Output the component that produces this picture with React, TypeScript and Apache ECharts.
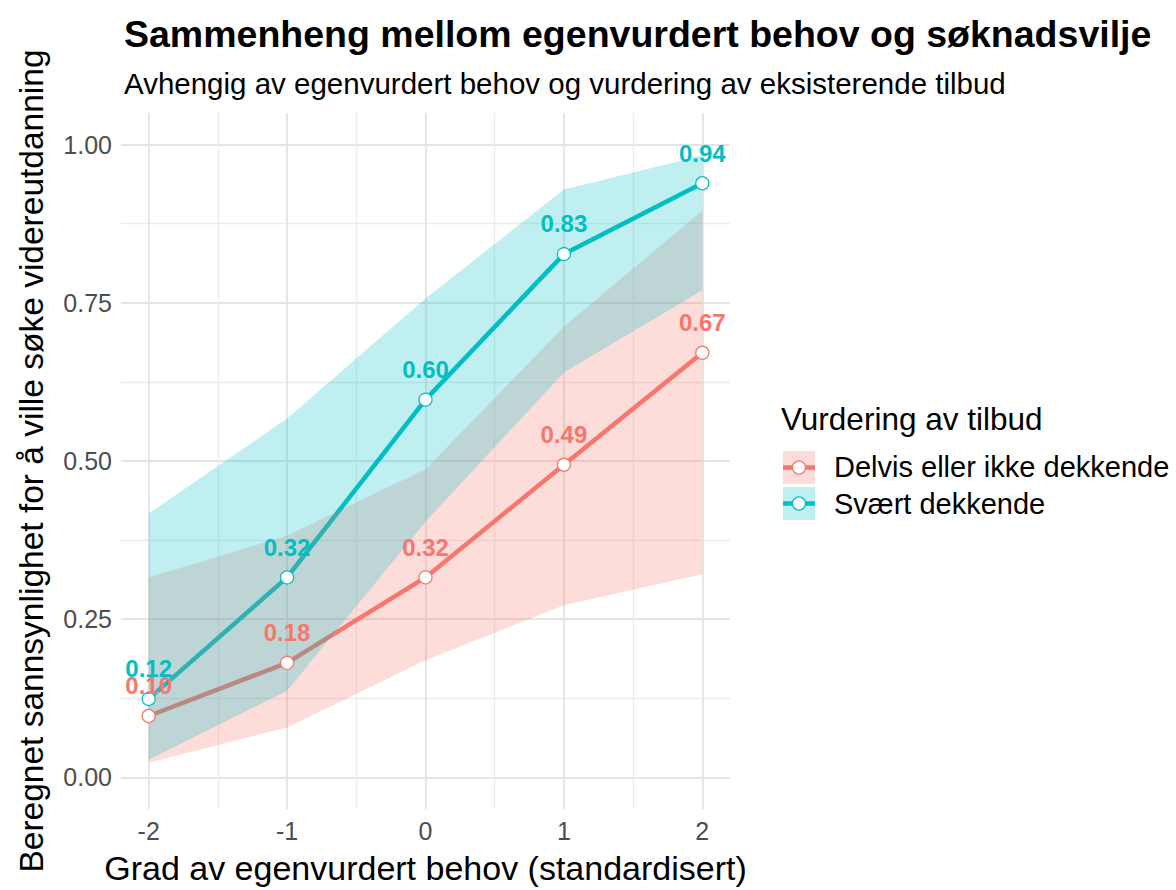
import React, { useEffect, useRef } from "react";
import * as echarts from "echarts";

const FONT = "'Liberation Sans', Arial, Helvetica, sans-serif";
const RED = "#F8766D";
const BLUE = "#00BFC4";
const RED_FILL = "rgba(248,118,109,0.25)";
const BLUE_FILL = "rgba(0,191,196,0.25)";

const titleText = "Sammenheng mellom egenvurdert behov og søknadsvilje";
const subtitleText = "Avhengig av egenvurdert behov og vurdering av eksisterende tilbud";
const xAxisTitle = "Grad av egenvurdert behov (standardisert)";
const yAxisTitle = "Beregnet sannsynlighet for å ville søke videreutdanning";
const legendTitle = "Vurdering av tilbud";
const groupNames = ["Delvis eller ikke dekkende", "Svært dekkende"];

const xValues = [-2, -1, 0, 1, 2];
const xMajorTicks = [-2, -1, 0, 1, 2];
const xMinorTicks = [-1.5, -0.5, 0.5, 1.5];
const yMajorTicks = [0, 0.25, 0.5, 0.75, 1];
const yMinorTicks = [0.125, 0.375, 0.625, 0.875];

// Delvis eller ikke dekkende (red)
const redFit = [0.097, 0.181, 0.316, 0.494, 0.671];
const redLower = [0.023, 0.079, 0.185, 0.272, 0.321];
const redUpper = [0.316, 0.382, 0.487, 0.712, 0.896];

// Svært dekkende (blue)
const blueFit = [0.124, 0.316, 0.597, 0.827, 0.939];
const blueLower = [0.028, 0.137, 0.404, 0.64, 0.77];
const blueUpper = [0.417, 0.567, 0.757, 0.929, 0.983];

function ribbon(name: string, lower: number[], upper: number[], fill: string) {
  return {
    type: "custom",
    name,
    z: 3,
    silent: true,
    clip: true,
    data: xValues.map((x, i) => [x, lower[i], upper[i]]),
    encode: { x: 0, y: [1, 2] },
    renderItem: (params: any, api: any) => {
      if (params.dataIndex !== 0) return null;
      const pts: number[][] = [];
      for (let i = 0; i < xValues.length; i++) pts.push(api.coord([xValues[i], upper[i]]));
      for (let i = xValues.length - 1; i >= 0; i--) pts.push(api.coord([xValues[i], lower[i]]));
      return { type: "polygon", shape: { points: pts }, style: { fill } };
    },
  };
}

function fitLine(name: string, vals: number[], color: string) {
  return {
    type: "line",
    name,
    z: 2,
    silent: true,
    symbol: "none",
    data: xValues.map((x, i) => [x, vals[i]]),
    lineStyle: { color, width: 4.5 },
    itemStyle: { color },
  };
}

function points(name: string, vals: number[], color: string) {
  return {
    type: "scatter",
    name,
    z: 4,
    symbol: "circle",
    symbolSize: 13,
    data: xValues.map((x, i) => [x, vals[i]]),
    itemStyle: { color: "#ffffff", borderColor: color, borderWidth: 1.3, opacity: 1 },
    label: {
      show: true,
      position: "top",
      distance: 11,
      formatter: (p: any) => p.value[1].toFixed(2),
      color,
      fontWeight: "bold",
      fontSize: 24,
      fontFamily: FONT,
    },
  };
}

export default function App() {
  const ref = useRef<HTMLDivElement>(null);
  useEffect(() => {
    if (!ref.current) return;
    const chart = echarts.init(ref.current, undefined, { renderer: "svg" });
    const gridLeft = 121;
    const gridTop = 113;
    const gridW = 609;
    const gridH = 699;
    const axisCommon = {
      type: "value",
      axisLine: { show: false },
    };
    chart.setOption({
      animation: false,
      backgroundColor: "#ffffff",
      textStyle: { fontFamily: FONT },
      title: {
        text: titleText,
        subtext: subtitleText,
        left: 119,
        top: 9,
        itemGap: 12,
        textStyle: { fontSize: 37.5, fontWeight: "bold", color: "#000", fontFamily: FONT, lineHeight: 40 },
        subtextStyle: { fontSize: 29.5, color: "#000", fontFamily: FONT, lineHeight: 34 },
      },
      grid: { left: gridLeft, top: gridTop, width: gridW, height: gridH, containLabel: false },
      xAxis: [
        {
          ...axisCommon,
          min: -2.2,
          max: 2.2,
          name: xAxisTitle,
          nameLocation: "middle",
          nameGap: 42,
          nameTextStyle: { fontSize: 34, color: "#000", fontFamily: FONT },
          axisTick: { show: false, customValues: xMajorTicks },
          axisLabel: {
            customValues: xMajorTicks,
            formatter: (v: number) => String(v),
            color: "#4D4D4D",
            fontSize: 25,
            margin: 9,
            fontFamily: FONT,
          },
          splitLine: { show: true, lineStyle: { color: "#E4E4E4", width: 1.8 } },
        },
        {
          ...axisCommon,
          min: -2.2,
          max: 2.2,
          axisTick: { show: false, customValues: xMinorTicks },
          axisLabel: { show: false, customValues: xMinorTicks },
          splitLine: { show: true, lineStyle: { color: "#ECECEC", width: 1.4 } },
        },
      ],
      yAxis: [
        {
          ...axisCommon,
          min: -0.05,
          max: 1.05,
          name: yAxisTitle,
          nameLocation: "middle",
          nameGap: 73,
          nameTextStyle: { fontSize: 33.5, color: "#000", fontFamily: FONT },
          axisTick: { show: false, customValues: yMajorTicks },
          axisLabel: {
            customValues: yMajorTicks,
            formatter: (v: number) => v.toFixed(2),
            color: "#4D4D4D",
            fontSize: 25,
            margin: 9,
            fontFamily: FONT,
          },
          splitLine: { show: true, lineStyle: { color: "#E4E4E4", width: 1.8 } },
        },
        {
          ...axisCommon,
          min: -0.05,
          max: 1.05,
          axisTick: { show: false, customValues: yMinorTicks },
          axisLabel: { show: false, customValues: yMinorTicks },
          splitLine: { show: true, lineStyle: { color: "#ECECEC", width: 1.4 } },
        },
      ],
      series: [
        fitLine(groupNames[0], redFit, RED),
        fitLine(groupNames[1], blueFit, BLUE),
        ribbon(groupNames[0] + " KI", redLower, redUpper, RED_FILL),
        ribbon(groupNames[1] + " KI", blueLower, blueUpper, BLUE_FILL),
        points(groupNames[1], blueFit, BLUE),
        points(groupNames[0], redFit, RED),
      ],
      graphic: [
        {
          type: "text",
          x: 781,
          y: 419,
          style: { text: legendTitle, fontSize: 31.5, fill: "#000", fontFamily: FONT, align: "left", verticalAlign: "middle" },
        },
        {
          type: "group",
          x: 783,
          y: 451,
          children: [
            { type: "rect", shape: { x: 0, y: 0, width: 32, height: 33 }, style: { fill: RED_FILL } },
            { type: "line", shape: { x1: 0, y1: 16.5, x2: 32, y2: 16.5 }, style: { stroke: RED, lineWidth: 4.5 } },
            { type: "circle", shape: { cx: 16, cy: 16.5, r: 6.5 }, style: { fill: "#fff", stroke: RED, lineWidth: 1.3 } },
            { type: "rect", shape: { x: 0, y: 36, width: 32, height: 33 }, style: { fill: BLUE_FILL } },
            { type: "line", shape: { x1: 0, y1: 52.5, x2: 32, y2: 52.5 }, style: { stroke: BLUE, lineWidth: 4.5 } },
            { type: "circle", shape: { cx: 16, cy: 52.5, r: 6.5 }, style: { fill: "#fff", stroke: BLUE, lineWidth: 1.3 } },
          ],
        },
        {
          type: "text",
          x: 834,
          y: 467,
          style: { text: groupNames[0], fontSize: 29, fill: "#000", fontFamily: FONT, align: "left", verticalAlign: "middle" },
        },
        {
          type: "text",
          x: 834,
          y: 504,
          style: { text: groupNames[1], fontSize: 29, fill: "#000", fontFamily: FONT, align: "left", verticalAlign: "middle" },
        },
      ],
    });
    return () => chart.dispose();
  }, []);
  return (
    <div
      ref={ref}
      style={{ position: "absolute", left: 0, top: 0, width: 1176, height: 890 }}
    />
  );
}
